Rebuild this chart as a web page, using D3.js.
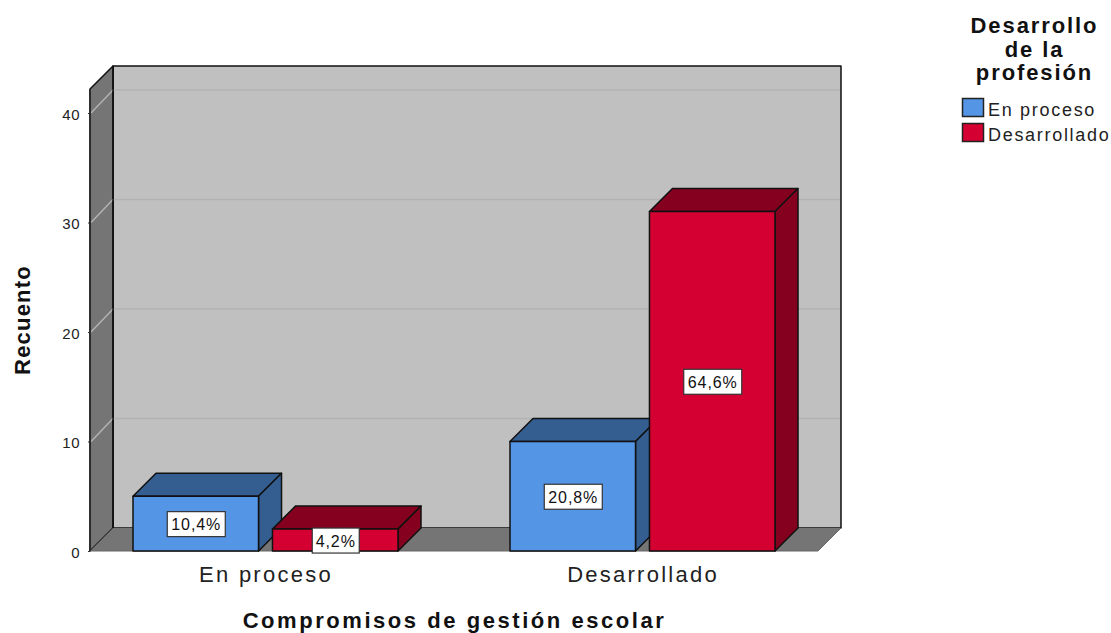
<!DOCTYPE html>
<html><head><meta charset="utf-8">
<script src="https://cdn.jsdelivr.net/npm/d3@7/dist/d3.min.js"></script>
<style>html,body{margin:0;background:#fff}svg{display:block}text{font-family:"Liberation Sans",Arial,sans-serif}</style>
</head><body><svg id="c" width="1111" height="633"></svg>
<script>
const categories=["En proceso","Desarrollado"];
const seriesNames=["En proceso","Desarrollado"];
const seriesEnProceso=[5,10];
const seriesDesarrollado=[2,31];
const labelsEnProceso=["10,4%","20,8%"];
const labelsDesarrollado=["4,2%","64,6%"];
const yTicks=[0,10,20,30,40];
const colors=["#5595e5","#d50032"];
const topColors=["#345d90","#85001f"];
const legendTitle=["Desarrollo","de la","profesión"];
const xTitle="Compromisos de gestión escolar";
const yTitle="Recuento";

const svg=d3.select("#c");
const dx=23,dy=-23,floorY=551,frontL=90,frontR=818;
const y=d3.scaleLinear().domain([0,40]).range([floorY,113]);
const x0=d3.scaleBand().domain(categories).range([77.5,831.5]);
const x1=d3.scaleBand().domain(seriesNames).range([-133,132]).paddingInner(0.1);
const topY=89;
const poly=(pts,fill,stroke="#111")=>svg.append("path").attr("d","M"+pts.map(p=>p.join(",")).join("L")+"Z").attr("fill",fill).attr("stroke",stroke).attr("stroke-width",1.5).attr("stroke-linejoin","round");

// walls
poly([[frontL+dx,topY+dy],[frontR+dx,topY+dy],[frontR+dx,floorY+dy],[frontL+dx,floorY+dy]],"#c0c0c0");
poly([[frontL,topY],[frontL+dx,topY+dy],[frontL+dx,floorY+dy],[frontL,floorY]],"#757575");
svg.append("path").attr("d",`M${frontL},${floorY}L${frontL+dx},${floorY+dy}L${frontR+dx},${floorY+dy}L${frontR},${floorY}Z`).attr("fill","#757575");
// gridlines
const grid=svg.append("g");
yTicks.slice(1).forEach(t=>{
  grid.append("path").attr("fill","none").attr("stroke","#b2b2b2").attr("stroke-width",1.5)
   .attr("d",`M${frontL+1},${y(t)}L${frontL+dx},${y(t)+dy}L${frontR+dx-1},${y(t)+dy}`);
});
svg.append("path").attr("d",`M${frontL},${topY}L${frontL},${floorY}L${frontR},${floorY}L${frontR+dx},${floorY+dy}`).attr("fill","none").attr("stroke","#666").attr("stroke-width",1);
svg.append("path").attr("d",`M${frontL},${topY}L${frontL},${floorY}`).attr("stroke","#222").attr("stroke-width",1.5);
svg.append("path").attr("d",`M${frontL+dx},${topY+dy}L${frontL+dx},${floorY+dy}`).attr("stroke","#111").attr("stroke-width",1.5);

// bars
const rows=[];
categories.forEach((c,i)=>{
  rows.push({c,s:seriesNames[0],v:seriesEnProceso[i],l:labelsEnProceso[i],k:0});
  rows.push({c,s:seriesNames[1],v:seriesDesarrollado[i],l:labelsDesarrollado[i],k:1});
});
const cx=d=>x0(d.c)+x0.bandwidth()/2;
rows.forEach(d=>{
  const xl=cx(d)+x1(d.s),w=x1.bandwidth(),t=y(d.v);
  poly([[xl,t],[xl+dx,t+dy],[xl+w+dx,t+dy],[xl+w,t]],topColors[d.k]);
  poly([[xl+w,t],[xl+w+dx,t+dy],[xl+w+dx,floorY+dy],[xl+w,floorY]],topColors[d.k]);
  poly([[xl,t],[xl+w,t],[xl+w,floorY],[xl,floorY]],colors[d.k]);
});
rows.forEach(d=>{
  const xl=cx(d)+x1(d.s),w=x1.bandwidth(),ym=(y(d.v)+floorY)/2+0.5;
  const bw=d.l.length>4?58:47;
  svg.append("rect").attr("x",xl+w/2-bw/2+0.5).attr("y",ym-12.5).attr("width",bw).attr("height",25).attr("fill","#fff").attr("stroke","#333").attr("stroke-width",1.2);
  svg.append("text").attr("x",xl+w/2+0.5).attr("y",ym+6).attr("text-anchor","middle").attr("font-size",16).attr("letter-spacing",0.9).attr("fill","#111").text(d.l);
});

// axes
const axL=svg.append("g").attr("transform",`translate(${frontL},0)`).call(d3.axisLeft(y).tickValues(yTicks).tickSize(2).tickPadding(8));
axL.select(".domain").remove();
axL.selectAll("text").attr("font-size",15).attr("letter-spacing",0.5).attr("fill","#222").attr("font-family",'"Liberation Sans"').attr("dy","0.42em");
axL.selectAll("line").attr("stroke","#333");
const axB=svg.append("g").attr("transform",`translate(0,${floorY})`).call(d3.axisBottom(x0).tickSize(0).tickPadding(15));
axB.select(".domain").remove();
axB.selectAll("text").attr("font-size",22).attr("letter-spacing",2.25).attr("fill","#222").attr("font-family",'"Liberation Sans"');

svg.append("text").attr("x",454.5).attr("y",628).attr("text-anchor","middle").attr("font-weight","bold").attr("font-size",22).attr("letter-spacing",2.55).attr("fill","#111").text(xTitle);
svg.append("text").attr("transform","translate(30,320) rotate(-90)").attr("text-anchor","middle").attr("font-weight","bold").attr("font-size",22).attr("letter-spacing",1.2).attr("fill","#111").text(yTitle);

// legend
legendTitle.forEach((t,i)=>svg.append("text").attr("x",1034.5).attr("y",33+i*23.5).attr("text-anchor","middle").attr("font-weight","bold").attr("font-size",22).attr("letter-spacing",1.9).attr("fill","#111").text(t));
seriesNames.forEach((s,i)=>{
  svg.append("rect").attr("x",962.5).attr("y",98.5+i*25).attr("width",21).attr("height",18).attr("fill",colors[i]).attr("stroke","#222").attr("stroke-width",1.5);
  svg.append("text").attr("x",988).attr("y",115.5+i*25).attr("font-size",18).attr("letter-spacing",1.7).attr("fill","#222").text(s);
});
</script></body></html>
